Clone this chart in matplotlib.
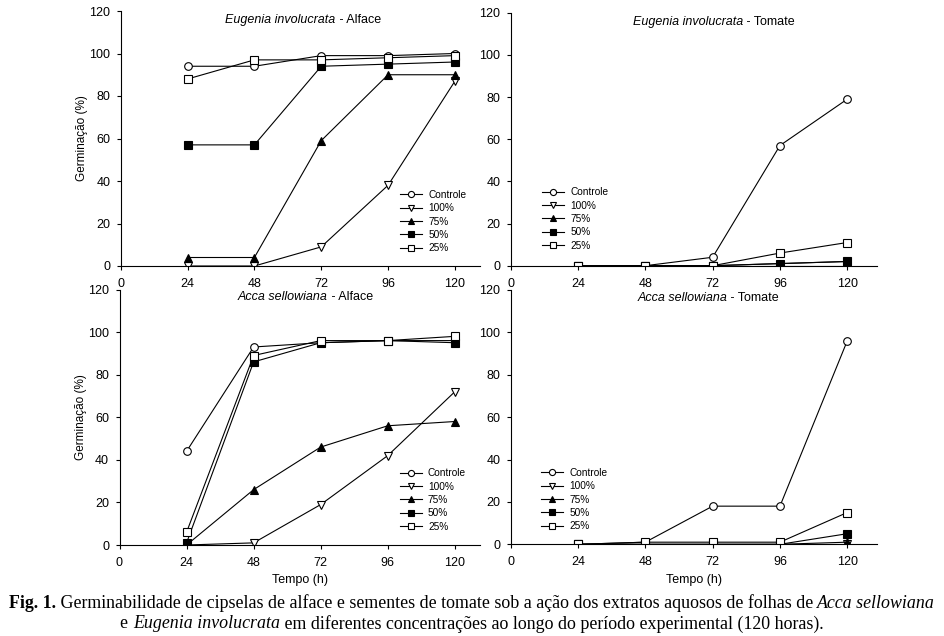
import matplotlib
matplotlib.use("Agg")
import matplotlib.pyplot as plt

plt.rcParams['font.family'] = ['Liberation Sans', 'DejaVu Sans']

tempo = [24, 48, 72, 96, 120]
series_labels = ["Controle", "100%", "75%", "50%", "25%"]

# Eugenia involucrata - Alface
ei_alface = {
    "Controle": [94, 94, 99, 99, 100],
    "100%": [0, 0, 9, 38, 87],
    "75%": [4, 4, 59, 90, 90],
    "50%": [57, 57, 94, 95, 96],
    "25%": [88, 97, 97, 98, 99],
}
# Eugenia involucrata - Tomate
ei_tomate = {
    "Controle": [0, 0, 4, 57, 79],
    "100%": [0, 0, 0, 0, 0],
    "75%": [0, 0, 0, 1, 2],
    "50%": [0, 0, 0, 1, 2],
    "25%": [0, 0, 0, 6, 11],
}
# Acca sellowiana - Alface
as_alface = {
    "Controle": [44, 93, 95, 96, 96],
    "100%": [0, 1, 19, 42, 72],
    "75%": [0, 26, 46, 56, 58],
    "50%": [1, 86, 95, 96, 95],
    "25%": [6, 89, 96, 96, 98],
}
# Acca sellowiana - Tomate
as_tomate = {
    "Controle": [0, 1, 18, 18, 96],
    "100%": [0, 0, 0, 0, 0],
    "75%": [0, 0, 0, 0, 1],
    "50%": [0, 0, 0, 0, 5],
    "25%": [0, 1, 1, 1, 15],
}

xticks = [0, 24, 48, 72, 96, 120]
yticks = [0, 20, 40, 60, 80, 100, 120]

styles = {
    "Controle": dict(marker='o', mfc='white'),
    "100%": dict(marker='v', mfc='white'),
    "75%": dict(marker='^', mfc='black'),
    "50%": dict(marker='s', mfc='black'),
    "25%": dict(marker='s', mfc='white'),
}

W, H = 944, 636
fig = plt.figure(figsize=(W / 100, H / 100), dpi=100)

def ax_rect(x0, x1, ytop, ybot):
    return [x0 / W, (H - ybot) / H, (x1 - x0) / W, (ybot - ytop) / H]

panels = [
    (ax_rect(120.7, 480, 11, 266), ei_alface, ("Eugenia involucrata", " - Alface"), True, False, (0.777, 0.298), 129, 0.598),
    (ax_rect(510.7, 876.7, 12.7, 265.7), ei_tomate, ("Eugenia involucrata", " - Tomate"), False, False, (0.085, 0.31), 130.5, 0.635),
    (ax_rect(119.5, 480, 289.5, 545), as_alface, ("Acca sellowiana", " - Alface"), True, True, (0.777, 0.30), 129, 0.577),
    (ax_rect(510.7, 876.7, 290, 544.3), as_tomate, ("Acca sellowiana", " - Tomate"), False, True, (0.082, 0.30), 130.5, 0.592),
]

for rect, data, title, ylab, xlab, legpos, xmax, tx in panels:
    ax = fig.add_axes(rect)
    for lab in series_labels:
        st = styles[lab]
        ax.plot(tempo, data[lab], color='black', lw=0.8, marker=st['marker'],
                mfc=st['mfc'], mec='black', mew=0.8, ms=5.5, label=lab)
    ax.set_xlim(0, xmax)
    ax.set_ylim(0, 120)
    ax.set_xticks(xticks)
    ax.set_yticks(yticks)
    ax.tick_params(labelsize=9, length=3, width=0.8, direction='out')
    ax.tick_params(axis='x', pad=5.5)
    ax.tick_params(axis='y', pad=4.5)
    for s in ['top', 'right']:
        ax.spines[s].set_visible(False)
    for s in ['left', 'bottom']:
        ax.spines[s].set_linewidth(0.8)
    ax.patch.set_alpha(0)
    if ylab:
        ax.set_ylabel("Germinação (%)", fontsize=8.5)
        ax.yaxis.set_label_coords(-0.091, 0.5)
    if xlab:
        ax.set_xlabel("Tempo (h)", fontsize=9, labelpad=4)
    ty = 0.965 if not xlab else 0.97
    ax.text(tx, ty, title[0], transform=ax.transAxes, ha='right',
            va='center', fontsize=9, style='italic')
    ax.text(tx, ty, title[1], transform=ax.transAxes, ha='left',
            va='center', fontsize=9)
    ax.legend(loc='upper left', bbox_to_anchor=legpos, frameon=False,
              fontsize=7.3, borderpad=0, borderaxespad=0, handlelength=2.2,
              handletextpad=0.6, labelspacing=0.33, markerscale=0.8)

# Caption
renderer = fig.canvas.get_renderer()
cap_fs = 12.9
line1 = [("Fig. 1.", 'bold', 'normal'),
         (" Germinabilidade de cipselas de alface e sementes de tomate sob a ação dos extratos aquosos de folhas de ", 'normal', 'normal'),
         ("Acca sellowiana", 'normal', 'italic')]
line2 = [("e ", 'normal', 'normal'),
         ("Eugenia involucrata", 'normal', 'italic'),
         (" em diferentes concentrações ao longo do período experimental (120 horas).", 'normal', 'normal')]

def draw_line(segs, ycenter_px):
    texts = []
    for s, w, st in segs:
        t = fig.text(0, 1 - ycenter_px / H, s, fontsize=cap_fs, fontweight=w, fontstyle=st,
                     family=['Liberation Serif', 'DejaVu Serif'], ha='left', va='center')
        texts.append(t)
    widths = [t.get_window_extent(renderer).width for t in texts]
    total = sum(widths)
    x = (W / 2 - total / 2)
    for t, wd in zip(texts, widths):
        t.set_x(x / W)
        x += wd

draw_line(line1, 603)
draw_line(line2, 624)

fig.savefig("out.png", dpi=100)
